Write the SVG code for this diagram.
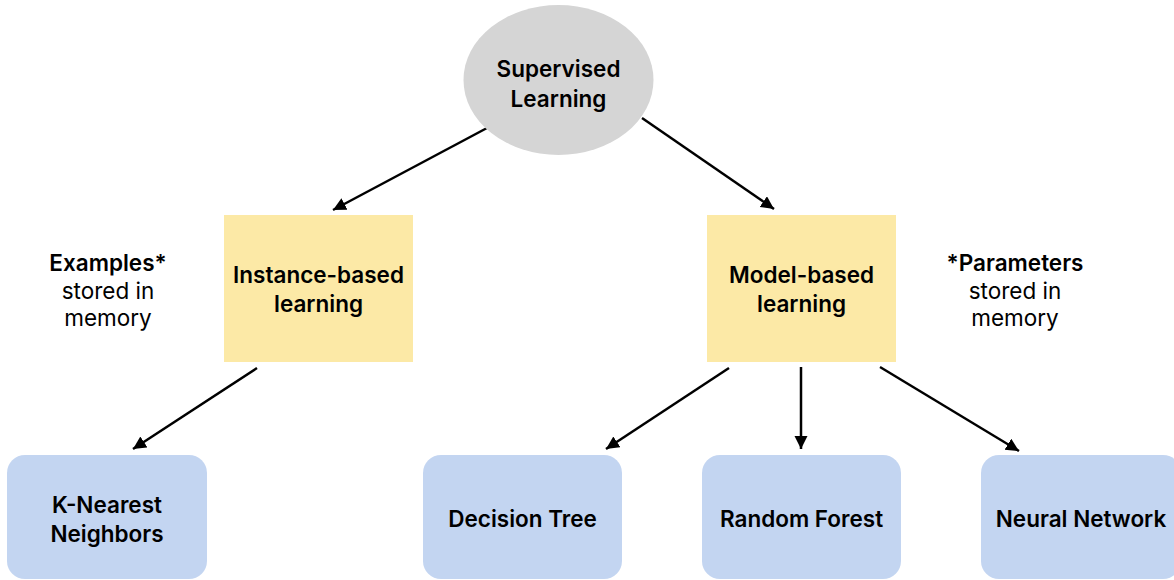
<svg xmlns="http://www.w3.org/2000/svg" width="1174" height="580" viewBox="0 0 1174 580">
<defs>
<marker id="arr" markerUnits="userSpaceOnUse" markerWidth="14" markerHeight="14" refX="13" refY="6.5" orient="auto">
<path d="M0,0 L13,6.5 L0,13 z" fill="#000"/>
</marker>
<style>
.t{font-family:Inter,"Liberation Sans",sans-serif;font-size:22.5px;fill:#000;text-anchor:middle}
.b{font-weight:600}
.r{font-weight:400}
.edge{stroke:#000;stroke-width:2.5;fill:none;marker-end:url(#arr)}
.yellow{fill:#fce9a6}
.blue{fill:#c3d5f1}
</style>
</defs>
<rect width="1174" height="580" fill="#fff"/>
<g id="connectors">
<line class="edge" x1="487" y1="128" x2="333" y2="210"/>
<line class="edge" x1="642" y1="118" x2="774" y2="209"/>
<line class="edge" x1="257" y1="368" x2="133" y2="449"/>
<line class="edge" x1="729" y1="368" x2="606" y2="449"/>
<line class="edge" x1="801" y1="367" x2="801" y2="449"/>
<line class="edge" x1="880" y1="367" x2="1019" y2="451"/>
</g>
<g id="supervised">
<ellipse cx="558.5" cy="80" rx="95" ry="75" fill="#d5d5d5"/>
<text class="t b" x="558.5" y="77">Supervised</text>
<text class="t b" x="558.5" y="107">Learning</text>
</g>
<g id="instance">
<rect class="yellow" x="224" y="215" width="189" height="147"/>
<text class="t b" x="318.5" y="283">Instance-based</text>
<text class="t b" x="318.5" y="312">learning</text>
</g>
<g id="model">
<rect class="yellow" x="707" y="215" width="189" height="147"/>
<text class="t b" x="801.5" y="283">Model-based</text>
<text class="t b" x="801.5" y="312">learning</text>
</g>
<g id="examples-note">
<text class="t b" x="108" y="271">Examples*</text>
<text class="t r" x="108" y="299">stored in</text>
<text class="t r" x="108" y="326">memory</text>
</g>
<g id="parameters-note">
<text class="t b" x="1015" y="271">*Parameters</text>
<text class="t r" x="1015" y="299">stored in</text>
<text class="t r" x="1015" y="326">memory</text>
</g>
<g id="knn">
<rect class="blue" x="7" y="455" width="200" height="124" rx="18"/>
<text class="t b" x="107" y="513">K-Nearest</text>
<text class="t b" x="107" y="542">Neighbors</text>
</g>
<g id="decision-tree">
<rect class="blue" x="423" y="455" width="199" height="124" rx="18"/>
<text class="t b" x="522.5" y="527">Decision Tree</text>
</g>
<g id="random-forest">
<rect class="blue" x="702" y="455" width="199" height="124" rx="18"/>
<text class="t b" x="801.5" y="527">Random Forest</text>
</g>
<g id="neural-network">
<rect class="blue" x="981" y="455" width="200" height="124" rx="18"/>
<text class="t b" x="1081" y="527">Neural Network</text>
</g>
</svg>
